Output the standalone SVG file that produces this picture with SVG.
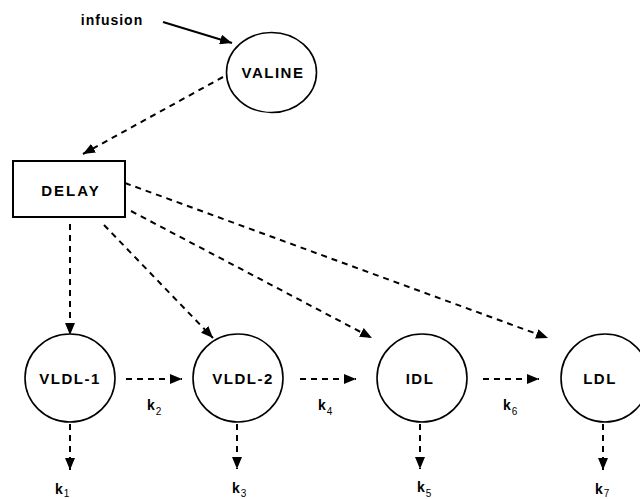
<svg xmlns="http://www.w3.org/2000/svg" width="640" height="499" viewBox="0 0 640 499">
<style>
.node{fill:#fff;stroke:#000;stroke-width:1.6}
.box{fill:#fff;stroke:#000;stroke-width:2}
.lbl{font-family:"Liberation Sans",Arial,sans-serif;font-weight:bold;font-size:15px;letter-spacing:1.5px;fill:#000;text-anchor:middle}
.k{font-family:"Liberation Sans",Arial,sans-serif;font-weight:bold;font-size:14px;fill:#000}
.sub{font-size:10px;font-weight:normal}
.dash{fill:none;stroke:#000;stroke-width:2;stroke-dasharray:6 5;marker-end:url(#ah)}
.solid{fill:none;stroke:#000;stroke-width:2;marker-end:url(#ah)}
</style>
<defs>
<marker id="ah" viewBox="0 0 12 10" refX="12" refY="5" markerWidth="12" markerHeight="10" markerUnits="userSpaceOnUse" orient="auto">
<path d="M0,0 L12,5 L0,10 z" fill="#000"/>
</marker>
</defs>
<rect width="640" height="499" fill="#fff"/>
<g id="connectors">
<line class="solid" x1="163" y1="22" x2="232" y2="43"/>
<line class="dash" x1="223" y1="77" x2="83" y2="154"/>
<line class="dash" x1="70" y1="224" x2="70" y2="335"/>
<line class="dash" x1="104" y1="225" x2="213" y2="338"/>
<line class="dash" x1="131" y1="211" x2="372" y2="338"/>
<line class="dash" x1="125" y1="183" x2="548" y2="338"/>
<line class="dash" x1="126" y1="379" x2="182" y2="379"/>
<line class="dash" x1="300" y1="379" x2="356" y2="379"/>
<line class="dash" x1="483" y1="379" x2="539" y2="379"/>
<line class="dash" x1="70" y1="424" x2="70" y2="470"/>
<line class="dash" x1="237" y1="424" x2="237" y2="469"/>
<line class="dash" x1="420" y1="424" x2="420" y2="469"/>
<line class="dash" x1="603" y1="424" x2="603" y2="470"/>
</g>
<g id="infusion"><text class="lbl" x="112" y="25" style="font-size:14px;letter-spacing:1px">infusion</text></g>
<g id="valine"><ellipse class="node" cx="271.5" cy="72.5" rx="45" ry="40"/><text class="lbl" x="273" y="78">VALINE</text></g>
<g id="delay"><rect class="box" x="13" y="161" width="112" height="56"/><text class="lbl" x="71" y="196" style="letter-spacing:2px">DELAY</text></g>
<g id="vldl1"><ellipse class="node" cx="70" cy="378" rx="45" ry="44"/><text class="lbl" x="70" y="384">VLDL-1</text></g>
<g id="vldl2"><ellipse class="node" cx="238" cy="378" rx="45" ry="44"/><text class="lbl" x="243" y="384">VLDL-2</text></g>
<g id="idl"><ellipse class="node" cx="422" cy="378" rx="45" ry="44"/><text class="lbl" x="420" y="384">IDL</text></g>
<g id="ldl"><ellipse class="node" cx="605" cy="378" rx="44" ry="44"/><text class="lbl" x="600" y="384">LDL</text></g>
<g id="rates">
<text class="k" x="147" y="410">k<tspan class="sub" dx="1" dy="5">2</tspan></text>
<text class="k" x="318" y="410">k<tspan class="sub" dx="1" dy="5">4</tspan></text>
<text class="k" x="503" y="410">k<tspan class="sub" dx="1" dy="5">6</tspan></text>
<text class="k" x="55" y="494">k<tspan class="sub" dx="1" dy="3">1</tspan></text>
<text class="k" x="232" y="493">k<tspan class="sub" dx="1" dy="4">3</tspan></text>
<text class="k" x="417" y="492">k<tspan class="sub" dx="1" dy="5">5</tspan></text>
<text class="k" x="595" y="494">k<tspan class="sub" dx="1" dy="3">7</tspan></text>
</g>
</svg>
